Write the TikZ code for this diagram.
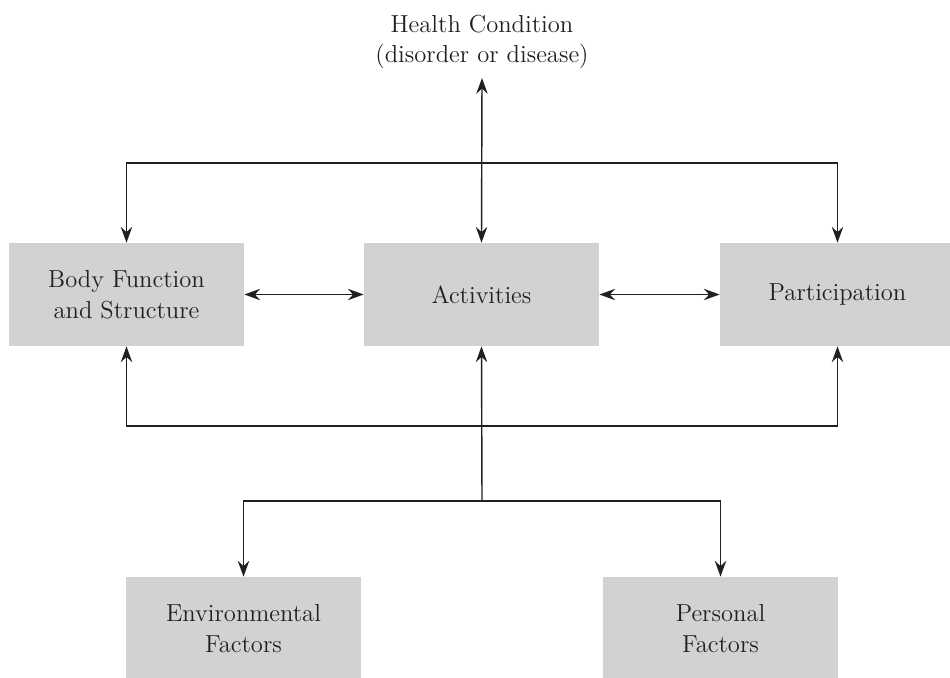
\documentclass[tikz,border=0pt]{standalone}
\usepackage{xcolor}
\usetikzlibrary{arrows.meta}
\definecolor{boxgray}{HTML}{D1D2D4}
\definecolor{lineink}{HTML}{231F20}

\begin{document}
\begin{tikzpicture}[
  x=0.02cm,
  y=-0.02cm,
  every node/.style={font=\fontsize{14}{17.5}\selectfont, text=lineink},
  factor/.style={fill=boxgray, align=center, inner sep=0pt,
                 minimum width=4.7cm, minimum height=2.06cm},
  link/.style={lineink, line width=0.8pt},
  onearrow/.style={link, -{Stealth[length=9pt, width=6.5pt, inset=3pt]}},
  twoarrow/.style={link, {Stealth[length=9pt, width=6.5pt, inset=3pt]}-{Stealth[length=9pt, width=6.5pt, inset=3pt]}}
]
  % ---- page frame, in pixels of the reference ----
  \useasboundingbox (0,0) rectangle (950,677);

  % ---- health condition ----
  \node[align=center] (hc) at (482,42) {Health Condition\\(disorder or disease)};

  % ---- the three components ----
  \node[factor] (body) at (126.5,294.5) {Body Function\\and Structure};
  \node[factor] (act)  at (481.5,294.5) {Activities};
  \node[factor] (part) at (837.5,294.5) {Participation};

  % ---- contextual factors ----
  \node[factor] (env)  at (243.5,628.5) {Environmental\\Factors};
  \node[factor] (pers) at (720.5,628.5) {Personal\\Factors};

  % ---- rails and branch points ----
  \coordinate (hctip)   at (482,78);
  \coordinate (toprail) at (482,163);
  \coordinate (botrail) at (482,426);
  \coordinate (split)   at (482,501);

  % ---- health condition to the components ----
  \draw[twoarrow] (hctip) -- (act.north);
  \draw[onearrow] (toprail) -| (body.north);
  \draw[onearrow] (toprail) -| (part.north);

  % ---- between the components ----
  \draw[twoarrow] (body.east) -- (act.west);
  \draw[twoarrow] (act.east) -- (part.west);

  % ---- contextual factors up to the components ----
  \draw[onearrow] (split) -- (act.south);
  \draw[onearrow] (botrail) -| (body.south);
  \draw[onearrow] (botrail) -| (part.south);
  \draw[onearrow] (split) -| (env.north);
  \draw[onearrow] (split) -| (pers.north);
\end{tikzpicture}
\end{document}
